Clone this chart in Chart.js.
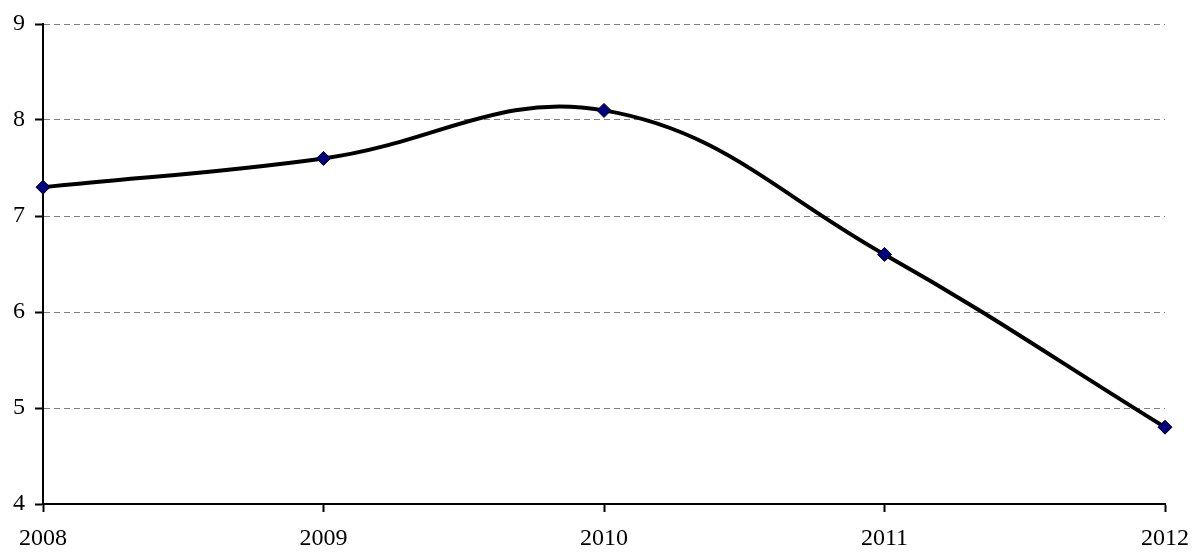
<!DOCTYPE html>
<html>
<head>
<meta charset="utf-8">
<script src="https://cdn.jsdelivr.net/npm/chart.js@4/dist/chart.umd.min.js"></script>
<style>
  html, body { margin: 0; padding: 0; background: #fff; }
  #wrap { width: 1194px; height: 552px; }
</style>
</head>
<body>
<div id="wrap"><canvas id="chart"></canvas></div>
<script>
// years along the bottom and the plotted values
const years = ['2008', '2009', '2010', '2011', '2012'];
const values = [7.3, 7.6, 8.1, 6.6, 4.8];
const yMin = 4, yMax = 9, yStep = 1;

const font = { family: '"Liberation Serif", "Times New Roman", serif', size: 24 };

new Chart(document.getElementById('chart'), {
    type: 'line',
    data: {
        labels: years,
        datasets: [{
            data: values,
            borderColor: '#000',
            borderWidth: 4,
            tension: 0.4,
            fill: false,
            pointStyle: 'rectRot',
            pointRadius: 7,
            pointHoverRadius: 7,
            pointBackgroundColor: '#000080',
            pointBorderColor: '#000',
            pointBorderWidth: 1,
        }],
    },
    options: {
        responsive: true,
        maintainAspectRatio: false,
        animation: false,
        layout: { padding: { left: 0, right: 29, top: 24, bottom: 0 } },
        plugins: {
            legend: { display: false },
            tooltip: { enabled: false },
        },
        scales: {
            x: {
                offset: false,
                afterFit: axis => {
                    axis.height = 48;
                    // labels may hang past the plot edges, as in the original
                    axis.paddingLeft = 0;
                    axis.paddingRight = 0;
                },
                grid: {
                    drawOnChartArea: false,
                    drawTicks: true,
                    tickLength: 8,
                    tickColor: '#000',
                    tickWidth: 2,
                },
                border: { color: '#000', width: 2 },
                ticks: { color: '#000', font, padding: 12, maxRotation: 0 },
            },
            y: {
                min: yMin,
                max: yMax,
                afterFit: axis => {
                    axis.width = 43;
                    axis.paddingTop = 0;
                    axis.paddingBottom = 0;
                },
                grid: {
                    color: ctx => ctx.tick && ctx.tick.value === yMin ? 'rgba(0,0,0,0)' : '#808080',
                    lineWidth: 1,
                    drawTicks: true,
                    tickLength: 8,
                    tickColor: '#000',
                    tickWidth: 2,
                    tickBorderDash: [],
                },
                border: { color: '#000', width: 2, dash: [6, 4] },
                ticks: { color: '#000', font, stepSize: yStep, padding: 10 },
            },
        },
    },
});
</script>
</body>
</html>
